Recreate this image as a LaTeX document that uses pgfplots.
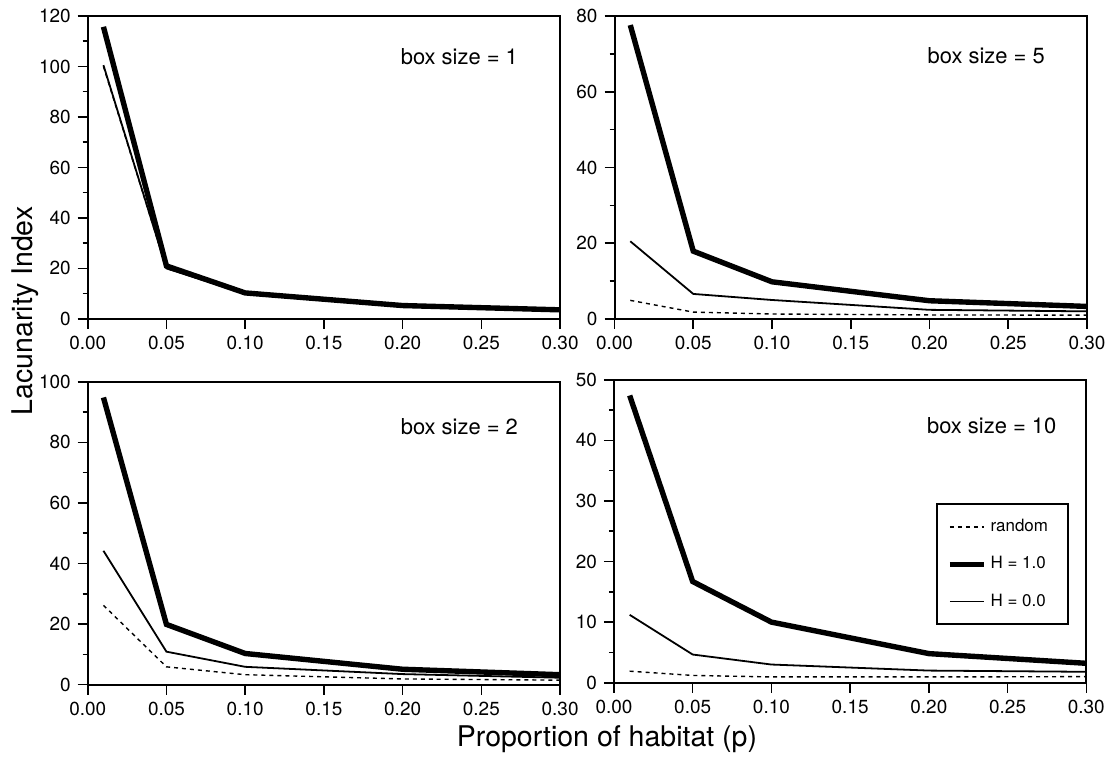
\documentclass[border=0pt]{standalone}
\usepackage{fontspec}
\setmainfont{TeX Gyre Heros}
\usepackage{pgfplots}
\pgfplotsset{compat=1.18}

\pgfplotsset{
  lacpanel/.style={
    scale only axis, width=237pt, height=152pt,
    anchor=south west,
    xmin=0, xmax=0.3, ymin=0,
    xtick={0,0.05,0.10,0.15,0.20,0.25,0.30},
    xticklabels={0.00,0.05,0.10,0.15,0.20,0.25,0.30},
    minor y tick num=1,
    tick pos=left, tick align=outside,
    major tick length=5pt, minor tick length=2.5pt,
    every tick/.style={black, line width=0.8pt},
    axis line style={line width=1pt},
    tick label style={font=\fontsize{9.5}{11}\selectfont},
    /pgf/number format/assume math mode=true,
    clip=false,
  },
}
\tikzset{
  rnd/.style={black, line width=0.7pt, dash pattern=on 2pt off 2pt},
  hone/.style={black, line width=2.7pt},
  hzero/.style={black, line width=0.9pt},
  boxlab/.style={anchor=west, inner sep=0pt, font=\fontsize{11}{13}\selectfont},
}

\begin{document}
\begin{tikzpicture}
\path (0,0) rectangle (556pt,383.5pt);

% box size = 1
\begin{axis}[lacpanel, at={(44pt,223.5pt)}, ymax=120, ytick={0,20,...,120}]
  \addplot[rnd] coordinates {(0.01,100) (0.05,20) (0.10,10) (0.20,5) (0.30,3.33)};
  \addplot[hone] coordinates {(0.01,115.7) (0.05,21) (0.10,10.3) (0.20,5.3) (0.30,3.6)};
  \addplot[hzero] coordinates {(0.01,100.5) (0.05,20) (0.10,10) (0.20,5) (0.30,3.3)};
  \node[boxlab] at (rel axis cs:0.662,0.865) {box size = 1};
\end{axis}

% box size = 5
\begin{axis}[lacpanel, at={(308.3pt,223.5pt)}, ymax=80, ytick={0,20,...,80}]
  \addplot[rnd] coordinates {(0.01,4.9) (0.05,1.8) (0.10,1.3) (0.20,1.05) (0.30,1.0)};
  \addplot[hone] coordinates {(0.01,77.6) (0.05,17.9) (0.10,9.8) (0.20,4.8) (0.30,3.3)};
  \addplot[hzero] coordinates {(0.01,20.5) (0.05,6.6) (0.10,5.0) (0.20,2.4) (0.30,2.0)};
  \node[boxlab] at (rel axis cs:0.662,0.87) {box size = 5};
\end{axis}

% box size = 2
\begin{axis}[lacpanel, at={(44pt,40pt)}, ymax=100, ytick={0,20,...,100}]
  \addplot[rnd] coordinates {(0.01,26.2) (0.05,5.9) (0.10,3.3) (0.20,1.9) (0.30,1.5)};
  \addplot[hone] coordinates {(0.01,94.8) (0.05,19.9) (0.10,10.3) (0.20,5.1) (0.30,3.3)};
  \addplot[hzero] coordinates {(0.01,44.2) (0.05,10.9) (0.10,5.9) (0.20,3.5) (0.30,2.3)};
  \node[boxlab] at (rel axis cs:0.662,0.85) {box size = 2};
\end{axis}

% box size = 10
\begin{axis}[lacpanel, at={(308pt,41pt)}, ymax=50, ytick={0,10,...,50},
  legend style={at={(0.964,0.592)}, anchor=north east, draw=black,
    line width=1pt, font=\fontsize{8.5}{10}\selectfont,
    row sep=7pt, inner xsep=5pt, inner ysep=5.5pt},
  legend cell align=left]
  \addplot[rnd] coordinates {(0.01,1.9) (0.05,1.2) (0.10,0.95) (0.20,0.95) (0.30,1.0)};
  \addlegendentry{\makebox[32pt][l]{random}}
  \addplot[hone] coordinates {(0.01,47.4) (0.05,16.7) (0.10,10.0) (0.20,4.8) (0.30,3.2)};
  \addlegendentry{\makebox[32pt][l]{H = 1.0}}
  \addplot[hzero] coordinates {(0.01,11.2) (0.05,4.65) (0.10,3.0) (0.20,2.0) (0.30,1.8)};
  \addlegendentry{\makebox[32pt][l]{H = 0.0}}
  \node[boxlab] at (rel axis cs:0.662,0.85) {box size = 10};
\end{axis}

\node[rotate=90, font=\fontsize{14.3}{17}\selectfont] at (12.5pt,227.5pt) {Lacunarity Index};
\node[anchor=base, font=\fontsize{14.3}{17}\selectfont] at (304.5pt,9pt) {Proportion of habitat (p)};
\end{tikzpicture}
\end{document}
